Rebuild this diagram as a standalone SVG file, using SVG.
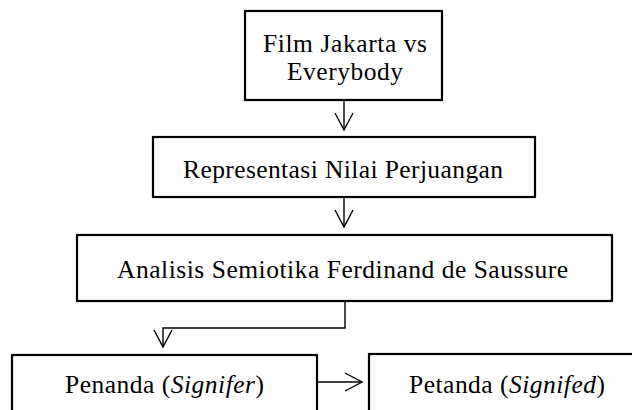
<svg xmlns="http://www.w3.org/2000/svg" width="632" height="410" viewBox="0 0 632 410">
  <style>
    .box { fill: #fff; stroke: #000; stroke-width: 2.2; }
    .lbl { font-family: "Liberation Serif", "Times New Roman", serif; font-size: 25.5px; fill: #000; }
    .conn { fill: none; stroke: #000; stroke-width: 1.4; }
  </style>
  <defs>
    <marker id="vhead" markerUnits="userSpaceOnUse" markerWidth="22" markerHeight="22" viewBox="-20 -10 22 20" refX="0" refY="0" orient="auto">
      <path d="M-17,-9 L0,0 L-17,9" fill="none" stroke="#000" stroke-width="1.4"/>
    </marker>
  </defs>
  <rect width="632" height="410" fill="#fff"/>

  <g id="connectors">
    <path class="conn" d="M344,100 V130" marker-end="url(#vhead)"/>
    <path class="conn" d="M344,197 V227" marker-end="url(#vhead)"/>
    <path class="conn" d="M345,301 V328 H163 V347" marker-end="url(#vhead)"/>
    <path class="conn" d="M317,382 H362" marker-end="url(#vhead)"/>
  </g>

  <g id="node-film">
    <rect class="box" x="245" y="11" width="197" height="89"/>
    <text class="lbl" x="263" y="52" textLength="164" lengthAdjust="spacing">Film  Jakarta vs</text>
    <text class="lbl" x="287" y="80" textLength="116" lengthAdjust="spacing">Everybody</text>
  </g>

  <g id="node-representasi">
    <rect class="box" x="153" y="137" width="382" height="60"/>
    <text class="lbl" x="183" y="178" textLength="320" lengthAdjust="spacing">Representasi Nilai  Perjuangan</text>
  </g>

  <g id="node-analisis">
    <rect class="box" x="77" y="235" width="535" height="66"/>
    <text class="lbl" x="117" y="278" textLength="451" lengthAdjust="spacing">Analisis Semiotika  Ferdinand de Saussure</text>
  </g>

  <g id="node-penanda">
    <rect class="box" x="12" y="355" width="305" height="100"/>
    <text class="lbl" x="65" y="393" textLength="199" lengthAdjust="spacing">Penanda (<tspan font-style="italic">Signifer</tspan>)</text>
  </g>

  <g id="node-petanda">
    <rect class="box" x="369" y="354" width="300" height="100"/>
    <text class="lbl" x="409" y="393" textLength="196" lengthAdjust="spacing">Petanda (<tspan font-style="italic">Signifed</tspan>)</text>
  </g>
</svg>
